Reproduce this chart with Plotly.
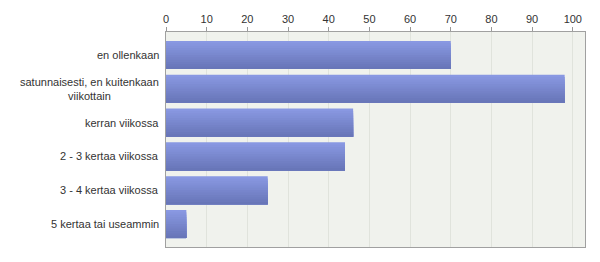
import plotly.graph_objects as go

categories = [
    "en ollenkaan",
    "satunnaisesti, en kuitenkaan<br>viikottain",
    "kerran viikossa",
    "2 - 3 kertaa viikossa",
    "3 - 4 kertaa viikossa",
    "5 kertaa tai useammin",
]
values = [70, 98, 46, 44, 25, 5]
tick_vals = list(range(0, 101, 10))

# vertical gradient for bars, from light top to darker bottom
top_rgb = (137, 152, 226)
bot_rgb = (104, 118, 184)
n_strips = 12
bar_w = 0.83

fig = go.Figure()
for i in range(n_strips):
    t = i / (n_strips - 1)
    rgb = tuple(round(a + (b - a) * t) for a, b in zip(top_rgb, bot_rgb))
    start = -bar_w / 2 + i * bar_w / n_strips
    fig.add_trace(go.Bar(
        x=values, y=categories, orientation="h",
        width=bar_w / 2 - start,
        offset=start,
        marker=dict(color="rgb(%d,%d,%d)" % rgb, line=dict(width=0)),
        showlegend=False, hoverinfo="x+y",
    ))

# category labels as annotations so multi-line text can be centred
for cat in categories:
    fig.add_annotation(
        x=0, xref="paper", y=cat, yref="y",
        text=cat, showarrow=False, xanchor="right", align="center",
        xshift=-5, font=dict(size=11, color="#333333"),
    )

fig.update_layout(
    width=600, height=262,
    margin=dict(l=166, r=15, t=32, b=15),
    paper_bgcolor="white",
    plot_bgcolor="#f0f2ed",
    barmode="overlay",
    font=dict(family="Liberation Sans, Arial, sans-serif", size=11, color="#333333"),
    xaxis=dict(
        side="top", range=[0, 103], tickvals=tick_vals,
        showgrid=True, gridcolor="#e0e3dc", gridwidth=1,
        ticks="outside", ticklen=4, tickcolor="#999999",
        showline=True, linecolor="#a0a0a0", mirror=True,
        zeroline=False, tickfont=dict(size=11, color="#333333"),
    ),
    yaxis=dict(
        range=[5.68, -0.68], showgrid=False,
        showline=True, linecolor="#a0a0a0", mirror=True,
        ticks="", showticklabels=False,
    ),
)

fig.write_html("out.html")
